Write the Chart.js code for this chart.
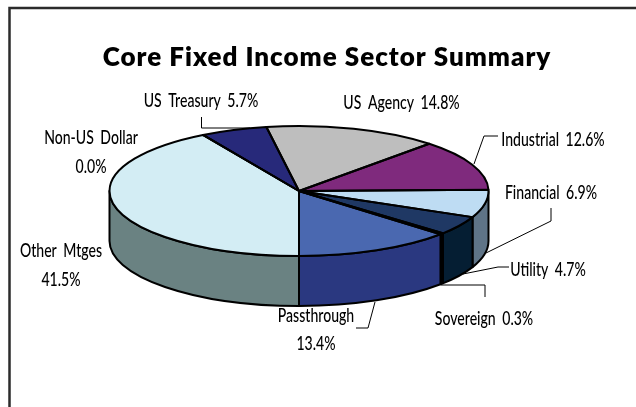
<!DOCTYPE html>
<html>
<head>
<meta charset="utf-8">
<style>html,body{margin:0;padding:0;background:#fff;overflow:hidden}canvas{display:block}</style>
<script src="https://cdn.jsdelivr.net/npm/chart.js@4/dist/chart.umd.min.js"></script>
</head>
<body>
<canvas id="c" width="636" height="407"></canvas>
<script>
const titleText = "Core Fixed Income Sector Summary";
const categories = ["Other Mtges","Non-US Dollar","US Treasury","US Agency","Industrial","Financial","Utility","Sovereign","Passthrough"];
const values = [41.5,0.0,5.7,14.8,12.6,6.9,4.7,0.3,13.4];
const topColors = ["#D3EDF4","#D3EDF4","#27297A","#BEBEBE","#7F2A7D","#BEDCF3","#1F3864","#F2F2F2","#4A68B0"];
const sideColors = ["#6A8282","#6A8282","#14163D","#5F5F5F","#40153F","#5F7487","#051E33","#000000","#2A3880"];
const twoLine = [true,true,false,false,false,false,false,false,true];

/* layout, separate from the data */
const pie = {cx:299, cy:191, rx:189.5, ry:65, depth:50};
const labelPos = [[61,251,280],[91,138,167],[201,101],[401.5,103],[553,140],[551,193],[548,270],[484,319],[316,316,344]];
const leaders = [
  [[201.5,117],[201.5,128],[250,128]],
  [[474,164],[484,136],[498,136]],
  [[551,208],[551,221],[486,253]],
  [[509,267],[498,267],[463,274]],
  [[441,285],[485,285],[485,297]],
  [[375,302],[368,328],[356,328]]
];

const pie3d = {
  id:"pie3d",
  beforeDraw(chart){
    const c = chart.ctx;
    c.save();
    c.strokeStyle = "#2b2b2b"; c.lineWidth = 2.5;
    c.beginPath(); c.moveTo(9.5,407); c.lineTo(9.5,8); c.lineTo(636,8); c.stroke();
    c.restore();
    c.letterSpacing = "1px";
  },
  beforeDatasetsDraw(chart){
    const c = chart.ctx, arcs = chart.getDatasetMeta(0).data;
    const {cx,cy,rx,ry,depth} = pie;
    c.letterSpacing = "0px";
    c.save();
    c.lineWidth = 2; c.strokeStyle = "#000"; c.lineJoin = "round";
    const front = [[0,Math.PI],[2*Math.PI,3*Math.PI]];
    arcs.forEach((a,i)=>{
      front.forEach(([f0,f1])=>{
        const s = Math.max(a.startAngle,f0), e = Math.min(a.endAngle,f1);
        if (e <= s) return;
        c.beginPath();
        c.ellipse(cx,cy,rx,ry,0,s,e);
        c.lineTo(cx+rx*Math.cos(e),cy+ry*Math.sin(e)+depth);
        c.ellipse(cx,cy+depth,rx,ry,0,e,s,true);
        c.closePath();
        c.fillStyle = sideColors[i];
        c.fill(); c.stroke();
      });
    });
    c.restore();
    /* flatten the library's own arcs onto the ellipse */
    const R = arcs[0].outerRadius;
    c.save();
    c.translate(cx,cy);
    c.scale(rx/R,ry/R);
    c.translate(-arcs[0].x,-arcs[0].y);
  },
  afterDatasetsDraw(chart){
    const c = chart.ctx, arcs = chart.getDatasetMeta(0).data;
    const {cx,cy,rx,ry} = pie;
    c.restore();
    c.save();
    c.lineWidth = 2; c.strokeStyle = "#000"; c.lineJoin = "round";
    arcs.forEach(a=>{
      c.beginPath();
      c.moveTo(cx,cy);
      c.ellipse(cx,cy,rx,ry,0,a.startAngle,a.endAngle);
      c.closePath();
      c.stroke();
    });
    c.restore();
  },
  afterDraw(chart){
    const c = chart.ctx;
    c.save();
    c.strokeStyle = "#000"; c.lineWidth = 1;
    leaders.forEach(pts=>{
      c.beginPath();
      pts.forEach((p,i)=> i ? c.lineTo(p[0],p[1]) : c.moveTo(p[0],p[1]));
      c.stroke();
    });
    c.fillStyle = "#000";
    c.font = "500 19px Lato";
    c.textAlign = "center"; c.textBaseline = "middle";
    c.wordSpacing = "4px";
    const sx = 0.74;
    const put = (t,x,y)=>{ c.save(); c.translate(x,y); c.scale(sx,1); c.fillText(t,0,0); c.restore(); };
    categories.forEach((n,i)=>{
      const v = values[i].toFixed(1)+"%", p = labelPos[i];
      if (twoLine[i]) { put(n,p[0],p[1]); put(v,p[0],p[2]); }
      else put(n+" "+v,p[0],p[1]);
    });
    c.restore();
  }
};

new Chart(document.getElementById("c"),{
  type:"pie",
  data:{labels:categories,datasets:[{data:values,backgroundColor:topColors,borderWidth:0}]},
  options:{
    responsive:false,animation:false,rotation:180,
    layout:{padding:{left:18,right:0,top:0,bottom:30}},
    plugins:{
      legend:{display:false},tooltip:{enabled:false},
      title:{display:true,text:titleText,fullSize:false,color:"#000",
        font:{family:"Lato",size:26,weight:"800"},padding:{top:42,bottom:10}}
    }
  },
  plugins:[pie3d]
});
</script>
</body>
</html>
